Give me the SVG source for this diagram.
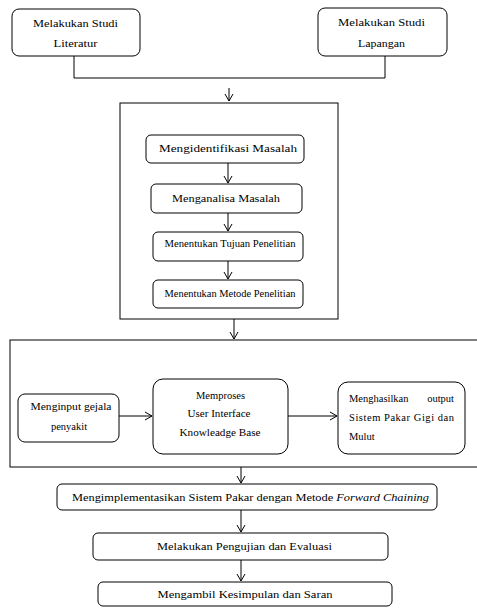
<svg xmlns="http://www.w3.org/2000/svg" width="477" height="608" viewBox="0 0 477 608">
<defs>
<marker id="ah" markerWidth="10" markerHeight="10" refX="8" refY="5" orient="auto" markerUnits="userSpaceOnUse">
<polyline points="1,1 8,5 1,9" fill="none" stroke="#000" stroke-width="1"/>
</marker>
<style>
.b{fill:#fff;stroke:#000;stroke-width:1}
.c{fill:none;stroke:#000;stroke-width:1}
.a{fill:none;stroke:#000;stroke-width:1;marker-end:url(#ah)}
text{font-family:"Liberation Serif","Times New Roman",serif;fill:#000;font-size:10.5px}
.m{text-anchor:middle}
</style>
</defs>
<rect width="477" height="608" fill="#fff"/>
<g id="frame1"><rect class="c" x="120" y="103" width="218" height="216"/></g>
<g id="frame2"><rect class="c" x="10" y="340" width="480" height="127"/></g>
<g id="studi-literatur"><rect class="b" x="12" y="9" width="128" height="47" rx="7"/>
<text class="m" x="75.5" y="27" textLength="85" lengthAdjust="spacingAndGlyphs">Melakukan Studi</text><text class="m" x="75.5" y="47" textLength="44" lengthAdjust="spacingAndGlyphs">Literatur</text></g>
<g id="studi-lapangan"><rect class="b" x="318" y="8" width="129" height="48" rx="7"/>
<text class="m" x="381.5" y="26" textLength="87" lengthAdjust="spacingAndGlyphs">Melakukan Studi</text><text class="m" x="381.5" y="47" textLength="47" lengthAdjust="spacingAndGlyphs">Lapangan</text></g>
<g id="identifikasi"><rect class="b" x="146" y="135" width="158" height="28" rx="5"/>
<text class="m" x="228" y="152" font-size="11" textLength="138" lengthAdjust="spacingAndGlyphs">Mengidentifikasi Masalah</text></g>
<g id="analisa"><rect class="b" x="151" y="184" width="151" height="29" rx="5"/>
<text class="m" x="226" y="202" font-size="11" textLength="108" lengthAdjust="spacingAndGlyphs">Menganalisa Masalah</text></g>
<g id="tujuan"><rect class="b" x="153" y="232" width="150" height="29" rx="5"/>
<text class="m" x="230" y="247" font-size="10" textLength="131" lengthAdjust="spacingAndGlyphs">Menentukan  Tujuan Penelitian</text></g>
<g id="metode"><rect class="b" x="153" y="280" width="150" height="28" rx="5"/>
<text class="m" x="230" y="297" font-size="10" textLength="131" lengthAdjust="spacingAndGlyphs">Menentukan  Metode Penelitian</text></g>
<g id="input"><rect class="b" x="18" y="394" width="101" height="48" rx="7"/>
<text class="m" x="71" y="410" textLength="81" lengthAdjust="spacingAndGlyphs">Menginput gejala</text><text class="m" x="69" y="430">penyakit</text></g>
<g id="proses"><rect class="b" x="153" y="379" width="135" height="75" rx="10"/>
<text class="m" x="220.5" y="399">Memproses</text><text class="m" x="219" y="417" textLength="63" lengthAdjust="spacingAndGlyphs">User Interface</text><text class="m" x="220" y="436" textLength="81" lengthAdjust="spacingAndGlyphs">Knowleadge  Base</text></g>
<g id="output"><rect class="b" x="338" y="382" width="127" height="72" rx="10"/>
<text x="349" y="402">Menghasilkan</text><text x="454" y="402" text-anchor="end">output</text>
<text x="349" y="421" textLength="105" lengthAdjust="spacing">Sistem Pakar Gigi dan</text>
<text x="349" y="440">Mulut</text></g>
<g id="implementasi"><rect class="b" x="57" y="484" width="380" height="26" rx="5"/>
<text class="m" x="250.5" y="501" font-size="11.5" textLength="357" lengthAdjust="spacingAndGlyphs">Mengimplementasikan Sistem Pakar dengan Metode <tspan font-style="italic">Forward Chaining</tspan></text></g>
<g id="pengujian"><rect class="b" x="93" y="533" width="295" height="27" rx="5"/>
<text class="m" x="244.5" y="550" font-size="11.5" textLength="175" lengthAdjust="spacingAndGlyphs">Melakukan Pengujian dan Evaluasi</text></g>
<g id="kesimpulan"><rect class="b" x="98" y="582" width="294" height="24" rx="5"/>
<text class="m" x="245" y="598" font-size="11.5" textLength="175" lengthAdjust="spacingAndGlyphs">Mengambil Kesimpulan dan Saran</text></g>
<g id="connectors">
<polyline class="c" points="74,56 74,78 385,78 385,56"/>
<line class="a" x1="229" y1="88" x2="229" y2="101"/>
<line class="a" x1="228" y1="163" x2="228" y2="183"/>
<line class="a" x1="228" y1="213" x2="228" y2="231"/>
<line class="a" x1="228" y1="261" x2="228" y2="279"/>
<line class="a" x1="234" y1="319" x2="234" y2="339"/>
<line class="a" x1="119" y1="416" x2="152" y2="416"/>
<line class="a" x1="288" y1="416" x2="337" y2="416"/>
<line class="a" x1="241" y1="467" x2="241" y2="483"/>
<line class="a" x1="241" y1="510" x2="241" y2="532"/>
<line class="a" x1="241" y1="560" x2="241" y2="581"/>
</g>
</svg>
